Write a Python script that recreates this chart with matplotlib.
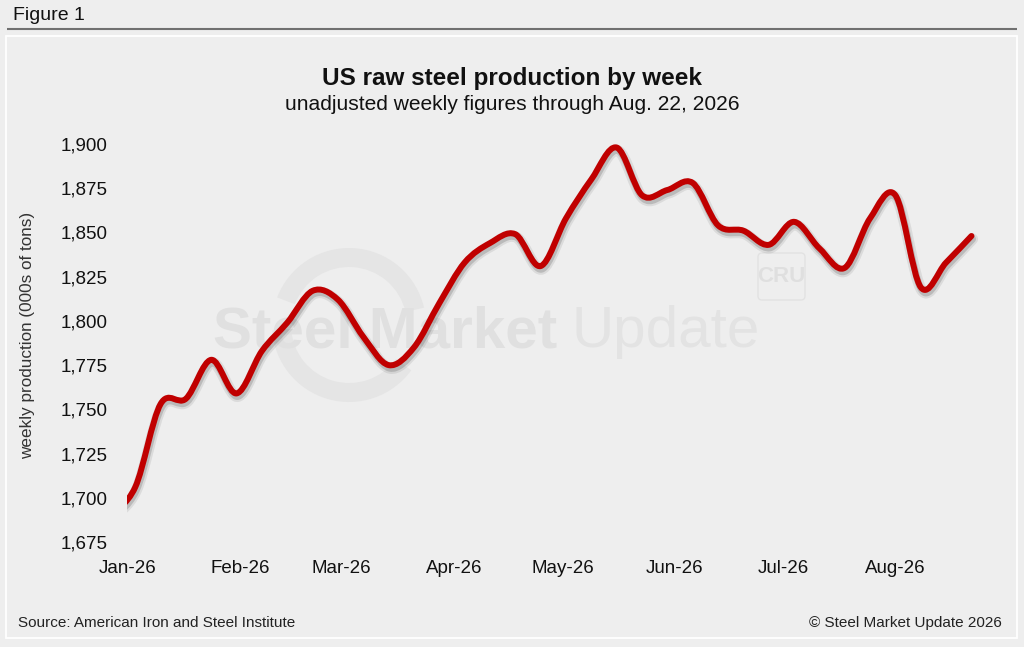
import matplotlib
matplotlib.use("Agg")
import matplotlib.pyplot as plt
import matplotlib.dates as mdates
import matplotlib.patheffects as pe
import matplotlib.ticker as ticker
from matplotlib.path import Path
from matplotlib.patches import PathPatch, Wedge, FancyBboxPatch, Rectangle
import numpy as np
import pandas as pd

# weekly figures, weeks ending Saturday (first week sits just left of the plot area)
weeks = pd.date_range("2025-12-27", "2026-08-22", freq="7D")
production = [1690,
              1706, 1753, 1756, 1778, 1759, 1783, 1799, 1817, 1812, 1791,
              1775, 1785, 1810, 1833, 1844, 1849, 1831, 1858, 1880, 1898,
              1871, 1874, 1878, 1854, 1851, 1843, 1856, 1841, 1830, 1858,
              1871, 1819, 1833, 1848]
y_ticks = [1675, 1700, 1725, 1750, 1775, 1800, 1825, 1850, 1875, 1900]

title = "US raw steel production by week"
subtitle = "unadjusted weekly figures through Aug. 22, 2026"
ylabel = "weekly production (000s of tons)"
source = "Source: American Iron and Steel Institute"
credit = "\u00a9 Steel Market Update 2026"

plt.rcParams['font.family'] = ['Liberation Sans', 'DejaVu Sans']
BG = '#eeeeee'
RED = '#c00000'


def smooth_path(x, y):
    # smoothed line like the spreadsheet one: bezier segments through each point
    pts = np.column_stack([x, y])
    ext = np.vstack([pts[:1], pts, pts[-1:]])
    verts = [pts[0]]
    codes = [Path.MOVETO]
    for i in range(len(pts) - 1):
        p0, p1, p2, p3 = ext[i], ext[i + 1], ext[i + 2], ext[i + 3]
        verts += [p1 + (p2 - p0) / 6.0, p2 - (p3 - p1) / 6.0, p2]
        codes += [Path.CURVE4] * 3
    return Path(verts, codes)


fig = plt.figure(figsize=(10.24, 6.47), dpi=100, facecolor=BG)

# background layer in pixel units for frame, titles and watermark
bg = fig.add_axes([0, 0, 1, 1], zorder=0)
bg.set_xlim(0, 1024)
bg.set_ylim(647, 0)
bg.axis('off')

bg.plot([7, 1017], [28.5, 28.5], color='#707070', lw=1.5, solid_capstyle='butt')
bg.add_patch(Rectangle((5.5, 35.5), 1011.5, 602.5, fill=False, ec='white', lw=1.3))
bg.text(13, 15, "Figure 1", fontsize=14, ha='left', va='center', color='#111111')

bg.text(512, 78, title, fontsize=17.5, fontweight='bold', ha='center', va='center', color='#111111')
bg.text(512, 104, subtitle, fontsize=15.1, ha='center', va='center', color='#111111')
bg.text(28, 335, ylabel, fontsize=12.3, rotation=90, ha='center', va='center', color='#333333')
bg.text(18, 623, source, fontsize=11, ha='left', va='center', color='#222222')
bg.text(1002, 623, credit, fontsize=11, ha='right', va='center', color='#222222')

# watermark (y is flipped in this layer, so angles are negated)
bg.add_patch(Wedge((349, 325), 77, -159, -13, width=19, color='#e5e5e5', lw=0))
bg.add_patch(Wedge((349, 325), 77, 36, 176, width=19, color='#e5e5e5', lw=0))
bg.text(557, 347, "Steel Market", fontsize=42, fontweight='bold', ha='right',
        va='baseline', color='#e0e0e0')
bg.text(572, 347, "Update", fontsize=42, fontweight='light', ha='left',
        va='baseline', color='#e3e3e3')
bg.add_patch(FancyBboxPatch((758, 253), 47, 47, boxstyle='round,pad=0,rounding_size=4',
                            fc='none', ec='#e2e2e2', lw=1))
bg.text(781.5, 277, "CRU", fontsize=16, fontweight='bold', ha='center', va='center',
        color='#dfdfdf', family=['Liberation Sans Narrow', 'Liberation Sans'])

# chart area: left edge 127 px, month starts 3.62 px per day, Jan 1 at 128 px
ax = fig.add_axes([127 / 1024, 1 - 542 / 647, 873 / 1024, 398 / 647], zorder=1)
ax.set_facecolor('none')
for s in ax.spines.values():
    s.set_visible(False)

xnum = mdates.date2num(weeks)
path = smooth_path(xnum, production)
line = PathPatch(path, fill=False, ec=RED, lw=4.3, capstyle='round', joinstyle='round',
                 zorder=3)
line.set_path_effects([
    pe.SimpleLineShadow(offset=(0.8, -2.2), shadow_color='black', alpha=0.08, linewidth=8),
    pe.SimpleLineShadow(offset=(0.8, -2.2), shadow_color='black', alpha=0.15, linewidth=5),
    pe.Normal()])
ax.add_patch(line)

jan1 = mdates.date2num(pd.Timestamp("2026-01-01"))
ax.set_xlim(jan1 - 1 / 3.62, jan1 + 872 / 3.62)
ax.set_ylim(y_ticks[0], y_ticks[-1])
ax.set_yticks(y_ticks)
ax.yaxis.set_major_formatter(ticker.FuncFormatter(lambda v, p: f"{v:,.0f}"))
ax.xaxis.set_major_locator(mdates.MonthLocator())
ax.xaxis.set_major_formatter(mdates.DateFormatter('%b-%y'))
ax.tick_params(axis='both', length=0, labelsize=13.5, colors='#111111')
ax.tick_params(axis='y', pad=13.7)
ax.tick_params(axis='x', pad=13)

plt.savefig("out.png", dpi=100, facecolor=BG)
